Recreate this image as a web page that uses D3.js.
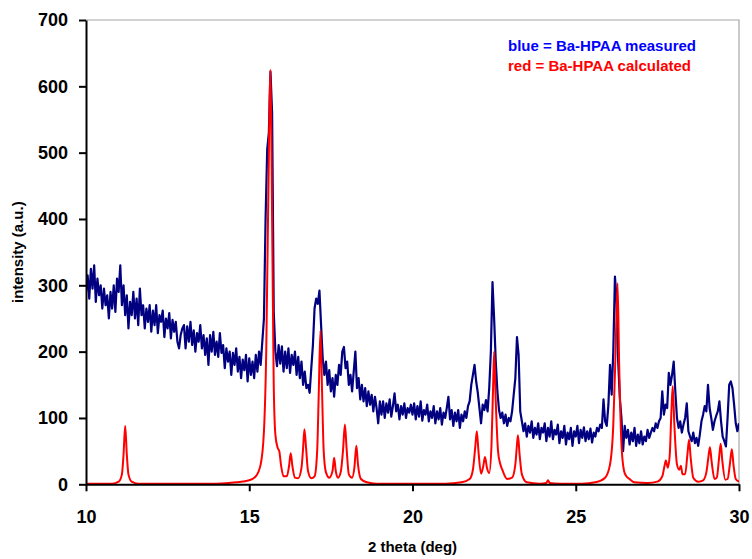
<html>
<script src='https://d3js.org/d3.v7.min.js'></script>
<style>
  body {margin: 0; background: white;}
  text {font-family: 'Liberation Sans', Arial, sans-serif; font-weight: bold;}
</style>
<body>
<svg width=752 height=559></svg>
<script>

// measured pattern, one row per degree, 0.05 deg steps (d.00 ... d.95)
var blueStart = 10;
var blueStep = 0.05;
var blueRows = [
  [290,315,280,325,295,330,275,310,285,300,265,295,270,285,250,290,265,300,260,310], // 10
  [290,330,270,300,255,285,235,275,255,290,250,280,240,295,255,270,235,265,245,270], // 11
  [230,262,240,270,228,255,245,262,222,250,235,258,220,248,230,245,215,205,225,235], // 12
  [240,205,238,215,245,210,232,200,228,215,240,205,225,195,220,180,225,200,230,195], // 13
  [215,192,228,198,210,175,205,185,200,165,198,180,205,170,192,160,188,172,195,155], // 14
  [190,165,185,160,195,170,200,180,215,250,400,505,530,622,560,260,200,178,210,182], // 15
  [208,170,200,175,205,168,195,180,200,165,192,160,185,150,170,145,150,138,175,210], // 16
  [265,280,272,292,240,190,165,185,150,172,140,160,132,165,150,180,165,200,207,175], // 17
  [185,150,165,140,170,200,145,160,128,150,125,145,118,140,120,135,110,132,115,92],  // 18
  [125,105,125,100,122,108,128,102,118,137,110,120,98,118,105,122,100,115,108,120],  // 19
  [105,122,98,118,102,125,96,112,105,120,95,110,100,118,92,110,98,115,90,108],       // 20
  [100,115,132,98,112,88,108,95,112,85,105,95,110,100,118,125,150,165,180,155],      // 21
  [138,115,92,120,112,127,110,145,200,305,250,185,140,112,100,108,92,105,88,100],    // 22
  [95,110,135,160,222,195,110,95,80,92,72,88,78,95,70,85,75,92,68,85],               // 23
  [78,92,65,85,72,95,68,82,75,90,62,80,70,88,60,78,68,85,58,80],                     // 24
  [72,88,62,82,70,86,65,80,68,84,63,78,72,85,80,90,85,128,95,88],                    // 25
  [120,180,135,200,313,280,185,130,100,50,88,70,82,60,78,65,85,58,75,62],            // 26
  [80,60,72,65,82,70,78,85,80,92,85,95,100,140,105,120,115,168,150,165],             // 27
  [185,140,100,85,95,78,90,100,122,80,72,65,78,62,70,58,75,95,105,118],              // 28
  [110,150,115,100,82,95,103,110,125,95,72,65,57,100,150,155,145,120,92,80],         // 29
  [92]                                                                                // 30
];

// calculated pattern, [2 theta, intensity]
var redPts = [
  [10,1],[10.8,1],[11.0,4],[11.1,15],[11.15,45],[11.2,88],[11.25,45],[11.3,15],[11.4,4],[11.6,1],
  [14.0,1],[14.6,3],[15.0,6],[15.2,12],[15.35,30],[15.45,80],[15.52,200],[15.58,420],[15.65,625],
  [15.7,400],[15.75,150],[15.8,75],[15.87,55],[15.92,50],[15.97,30],[16.05,12],[16.15,12],[16.22,28],
  [16.27,47],[16.32,28],[16.4,10],[16.5,9],[16.6,25],[16.65,55],[16.69,83],[16.74,55],[16.8,20],
  [16.9,9],[17.0,12],[17.08,50],[17.13,140],[17.18,232],[17.23,140],[17.28,50],[17.35,18],[17.45,10],
  [17.55,20],[17.6,40],[17.65,20],[17.72,10],[17.8,18],[17.87,50],[17.93,90],[17.98,55],[18.05,15],
  [18.15,10],[18.22,25],[18.28,58],[18.33,30],[18.42,8],[18.6,3],[18.9,1],
  [21.0,1],[21.5,3],[21.75,8],[21.85,22],[21.92,55],[21.97,80],[22.02,50],[22.1,16],[22.17,28],
  [22.22,41],[22.28,25],[22.35,17],[22.42,60],[22.47,150],[22.5,200],[22.55,125],[22.62,50],
  [22.68,32],[22.75,22],[22.9,8],[23.05,10],[23.15,30],[23.2,60],[23.23,74],[23.28,45],[23.35,15],
  [23.5,3],[23.9,1],[24.1,2],[24.15,6],[24.2,2],[24.5,1],
  [25.2,1],[25.6,3],[25.9,10],[26.05,30],[26.15,90],[26.22,200],[26.28,303],[26.33,180],[26.4,60],
  [26.48,20],[26.55,12],[26.65,8],[26.8,3],[27.2,2],[27.5,4],[27.65,12],[27.72,28],[27.76,36],
  [27.82,25],[27.88,45],[27.93,110],[27.97,148],[28.02,90],[28.1,30],[28.17,22],[28.22,28],
  [28.27,15],[28.35,15],[28.42,45],[28.47,67],[28.52,40],[28.6,10],[28.75,4],[28.9,6],[29.0,18],
  [29.06,40],[29.11,56],[29.16,35],[29.25,8],[29.32,10],[29.39,40],[29.44,61],[29.49,35],[29.58,7],
  [29.65,8],[29.72,30],[29.78,53],[29.83,30],[29.9,8],[30,4]
];

var xTicks = [10,15,20,25,30];
var yTicks = [0,100,200,300,400,500,600,700];
var legendLines = ['blue = Ba-HPAA measured', 'red = Ba-HPAA calculated'];
var legendColors = ['#0000ff', '#ff0000'];

var pLeft = 86, pRight = 739, pTop = 20, pBottom = 484.3;

var xs = d3.scaleLinear().domain([10,30]).range([pLeft,pRight]);
var ys = d3.scaleLinear().domain([0,700]).range([pBottom,pTop]);

var bluePts = [];
blueRows.forEach(function(row, r) {
  row.forEach(function(v, j) { bluePts.push([blueStart + r + j*blueStep, v]); });
});

var svg = d3.select('svg');

svg.append('clipPath').attr('id','plot').append('rect')
  .attr('x',pLeft).attr('y',pTop-2).attr('width',pRight-pLeft).attr('height',pBottom-pTop+4);

// frame (top and right)
svg.append('path')
  .attr('d','M'+pLeft+','+pTop+'H'+pRight+'V'+pBottom)
  .attr('fill','none').attr('stroke','#a6a6a6').attr('stroke-width',1.2);

var line = d3.line().x(function(d){return xs(d[0]);}).y(function(d){return ys(d[1]);});

svg.append('path').datum(bluePts)
  .attr('clip-path','url(#plot)')
  .attr('d', line)
  .attr('fill','none').attr('stroke','#000080').attr('stroke-width',2.2).attr('stroke-linejoin','round');

svg.append('path').datum(redPts)
  .attr('clip-path','url(#plot)')
  .attr('d', line.curve(d3.curveMonotoneX))
  .attr('fill','none').attr('stroke','#ff0000').attr('stroke-width',2);

var xAxis = d3.axisBottom(xs).tickValues(xTicks).tickSize(7).tickSizeOuter(0).tickPadding(19);
var gx = svg.append('g').attr('transform','translate(0,'+pBottom+')').call(xAxis);
var yAxis = d3.axisLeft(ys).tickValues(yTicks).tickSize(7).tickSizeOuter(0).tickPadding(11);
var gy = svg.append('g').attr('transform','translate('+pLeft+',0)').call(yAxis);

[gx, gy].forEach(function(g) {
  g.select('.domain').attr('stroke','#000').attr('stroke-width',2);
  g.selectAll('.tick line').attr('stroke','#000').attr('stroke-width',2);
  g.selectAll('.tick text').attr('fill','#000').style('font-size','18px').style('font-weight','bold')
    .style('font-family',"'Liberation Sans', Arial, sans-serif");
});

svg.append('text')
  .attr('text-anchor','middle')
  .attr('x',(pLeft+pRight)/2).attr('y',552)
  .style('font-size','15px')
  .text('2 theta (deg)');

svg.append('text')
  .attr('text-anchor','middle')
  .attr('transform','translate(23,'+((pTop+pBottom)/2)+') rotate(-90)')
  .style('font-size','15px')
  .text('intensity (a.u.)');

svg.selectAll('.legend').data(legendLines).enter().append('text')
  .attr('class','legend')
  .attr('x',508).attr('y',function(d,i){return 51 + i*20;})
  .attr('fill',function(d,i){return legendColors[i];})
  .style('font-size','15px')
  .text(function(d){return d;});

</script>
</body>
</html>
